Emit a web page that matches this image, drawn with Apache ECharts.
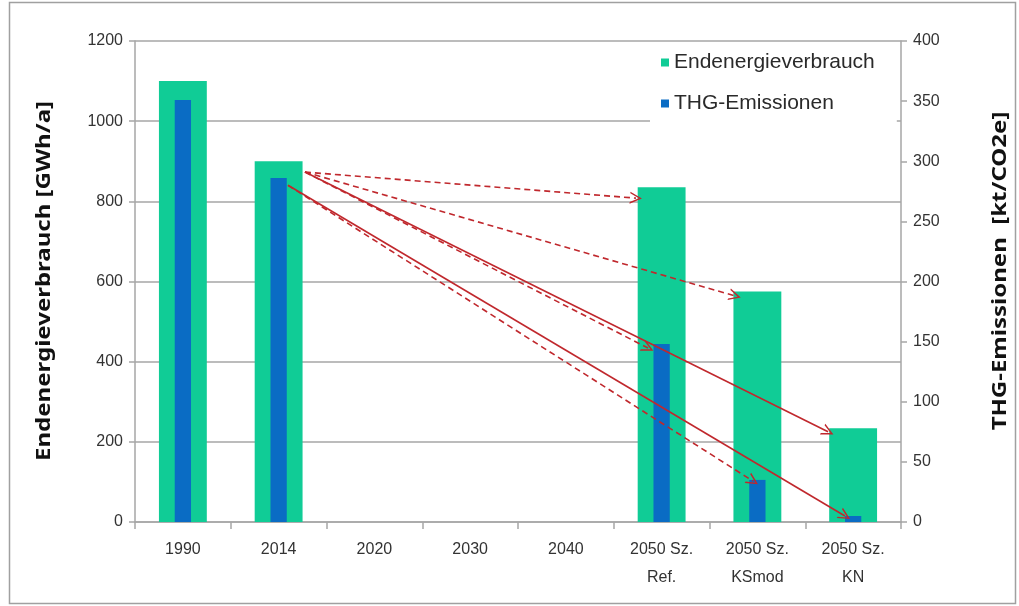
<!DOCTYPE html>
<html>
<head>
<meta charset="utf-8">
<script src="https://cdn.jsdelivr.net/npm/echarts@6/dist/echarts.min.js"></script>
<style>html,body{margin:0;padding:0;background:#fff}#c{width:1019px;height:606px}</style>
</head>
<body>
<div id="c"></div>
<script>
// ---- data ----
var categories = ['1990', '2014', '2020', '2030', '2040', '2050 Sz.\nRef.', '2050 Sz.\nKSmod', '2050 Sz.\nKN'];
var endenergie = [1100, 900, null, null, null, 835, 575, 234];   // GWh/a (left axis)
var thg = [351, 286, null, null, null, 148, 35, 5];              // kt CO2e (right axis)
var leftTicks = [0, 200, 400, 600, 800, 1000, 1200];
var rightTicks = [0, 50, 100, 150, 200, 250, 300, 350, 400];
var leftTitle = 'Endenergieverbrauch [GWh/a]';
var rightTitle = 'THG-Emissionen  [kt/CO2e]';
// arrows: [fromIndex, fromValue, toIndex, toValue, dashed] (index = category position)
var arrowsLeft = [
  [1.275, 873, 4.732, 808, true],
  [1.275, 873, 5.766, 564, true],
  [1.275, 873, 4.858, 434, true],
  [1.275, 873, 6.738, 225, false]
];
var arrowsRight = [
  [1.098, 280, 5.954, 34, true],
  [1.098, 280, 6.915, 5, false]
];

var green = '#10cc96', blue = '#0a6cc4', red = '#c0282d';
var chevron = 'path://M5,0 L10,10 L8.6,10 L5,2.6 L1.4,10 L0,10 Z';
function toLines(arr) {
  return arr.map(function (a) {
    return { coords: [[a[0], a[1]], [a[2], a[3]]], lineStyle: { type: a[4] ? [6, 4] : 'solid' } };
  });
}
var font = 'Liberation Sans, Arial, sans-serif';
var titleStyle = { fontFamily: 'Noto Sans, sans-serif', fontWeight: 'bold', fontSize: 20, fill: '#111', align: 'center', verticalAlign: 'middle' };
var chart = echarts.init(document.getElementById('c'));
chart.setOption({
  backgroundColor: '#fff',
  animation: false,
  grid: { left: 135, right: 118, top: 41, bottom: 84 },
  graphic: [
    { type: 'rect', shape: { x: 9.5, y: 2.5, width: 1006, height: 601 }, style: { fill: 'none', stroke: '#a0a0a0', lineWidth: 1.5 }, z: -10 },
    { type: 'text', x: 44, y: 281, rotation: Math.PI / 2, scaleX: 1.2, style: Object.assign({ text: leftTitle }, titleStyle) },
    { type: 'text', x: 1000, y: 271, rotation: Math.PI / 2, scaleX: 1.2, style: Object.assign({ text: rightTitle }, titleStyle) }
  ],
  legend: {
    orient: 'vertical', left: 650, top: 44,
    icon: 'rect', itemWidth: 8, itemHeight: 8, itemGap: 20,
    padding: [8, 22, 12, 11], backgroundColor: '#fff',
    textStyle: { fontFamily: font, fontSize: 21, color: '#2a2a2a' },
    data: ['Endenergieverbrauch', 'THG-Emissionen']
  },
  xAxis: [
    { type: 'category', data: categories,
      axisLine: { lineStyle: { color: '#a6a6a6', width: 1.5 } },
      axisTick: { show: true, length: 7, lineStyle: { color: '#a6a6a6', width: 1.5 } },
      axisLabel: { fontFamily: font, fontSize: 16, color: '#333', margin: 14, lineHeight: 28, interval: 0 } },
    { type: 'category', data: categories, show: false },
    { type: 'value', min: -0.5, max: 7.5, show: false }
  ],
  yAxis: [
    { type: 'value', min: 0, max: 1200, interval: 200,
      axisLine: { show: true, onZero: false, lineStyle: { color: '#a6a6a6', width: 1.5 } },
      axisTick: { show: true, length: 6, lineStyle: { color: '#a6a6a6', width: 1.5 } },
      axisLabel: { fontFamily: font, fontSize: 16, color: '#333', margin: 12, formatter: function (v) { return String(v); } },
      splitLine: { lineStyle: { color: '#a6a6a6', width: 1.5 } } },
    { type: 'value', min: 0, max: 400, interval: 50, position: 'right',
      axisLine: { show: true, onZero: false, lineStyle: { color: '#a6a6a6', width: 1.5 } },
      axisTick: { show: true, length: 6, lineStyle: { color: '#a6a6a6', width: 1.5 } },
      axisLabel: { fontFamily: font, fontSize: 16, color: '#333', margin: 12, formatter: function (v) { return String(v); } },
      splitLine: { show: false } }
  ],
  series: [
    { name: 'Endenergieverbrauch', type: 'bar', xAxisIndex: 0, yAxisIndex: 0, data: endenergie,
      barWidth: '50%', itemStyle: { color: green }, z: 2 },
    { name: 'THG-Emissionen', type: 'bar', xAxisIndex: 1, yAxisIndex: 1, data: thg,
      barWidth: '17%', itemStyle: { color: blue }, z: 3 },
    { type: 'lines', coordinateSystem: 'cartesian2d', xAxisIndex: 2, yAxisIndex: 0,
      symbol: ['none', chevron], symbolSize: 12, z: 5,
      lineStyle: { color: red, width: 1.6, opacity: 1, curveness: 0 },
      data: toLines(arrowsLeft) },
    { type: 'lines', coordinateSystem: 'cartesian2d', xAxisIndex: 2, yAxisIndex: 1,
      symbol: ['none', chevron], symbolSize: 12, z: 5,
      lineStyle: { color: red, width: 1.6, opacity: 1, curveness: 0 },
      data: toLines(arrowsRight) }
  ]
});
</script>
</body>
</html>
